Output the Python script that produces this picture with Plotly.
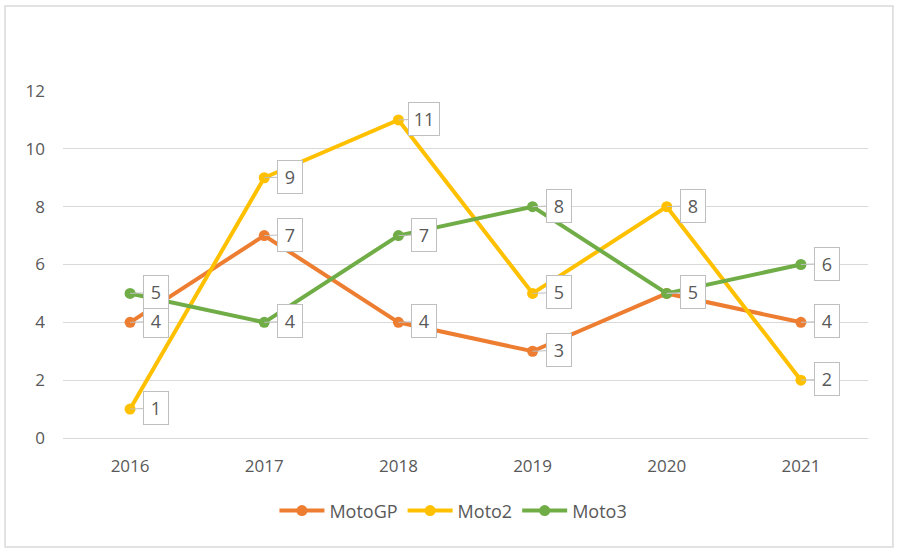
import plotly.graph_objects as go

years = ["2016", "2017", "2018", "2019", "2020", "2021"]
motogp = [4, 7, 4, 3, 5, 4]
moto2 = [1, 9, 11, 5, 8, 2]
moto3 = [5, 4, 7, 8, 5, 6]
y_ticks = [0, 2, 4, 6, 8, 10, 12]

series = [
    ("MotoGP", motogp, "#ED7D31"),
    ("Moto2", moto2, "#FFC000"),
    ("Moto3", moto3, "#70AD47"),
]

FONT = "Open Sans"
TXT = "#595959"

fig = go.Figure()
for name, vals, col in series:
    fig.add_trace(go.Scatter(
        x=years, y=vals, name=name, mode="lines+markers",
        line=dict(color=col, width=4),
        marker=dict(color=col, size=11),
        cliponaxis=False,
    ))
for name, vals, col in series:
    for idx, yv in enumerate(vals):
        # category axis: position annotations by category index
        fig.add_annotation(
            x=idx, y=yv, text=str(yv),
            showarrow=True, ax=26, ay=-1,
            arrowhead=0, arrowwidth=1, arrowcolor="#BFBFBF",
            bordercolor="#BFBFBF", borderwidth=1, borderpad=2,
            bgcolor="#FFFFFF", width=(20 if yv < 10 else 26), height=28,
            font=dict(family=FONT, size=18, color=TXT),
        )

fig.update_layout(
    width=900, height=553,
    margin=dict(l=63, r=32, t=91, b=115),
    paper_bgcolor="white", plot_bgcolor="white",
    font=dict(family=FONT, size=17, color=TXT),
    showlegend=True,
    legend=dict(orientation="h", x=0.485, xanchor="center", y=-0.21, yanchor="middle",
                font=dict(family=FONT, size=18, color=TXT), itemwidth=45,
                traceorder="normal"),
)
fig.add_shape(type="rect", xref="paper", yref="paper",
              x0=-0.072, x1=1.031, y0=-0.314, y1=1.245,
              line=dict(color="#D9D9D9", width=1.5), fillcolor="rgba(0,0,0,0)",
              layer="below")
fig.update_xaxes(type="category", range=[-0.5, 5.5], showgrid=False,
                 showline=False, ticks="", tickfont=dict(size=17, color=TXT),
                 ticklabelstandoff=16)
fig.update_yaxes(range=[0, 12], tickvals=y_ticks, showgrid=True, gridcolor="#D9D9D9",
                 gridwidth=1, zeroline=True, zerolinecolor="#D9D9D9", zerolinewidth=1,
                 showline=False, ticks="", tickfont=dict(size=17, color=TXT),
                 ticklabelstandoff=17)

fig.write_html("out.html", config={"displayModeBar": False},
               post_script="document.body.style.margin='0';")
